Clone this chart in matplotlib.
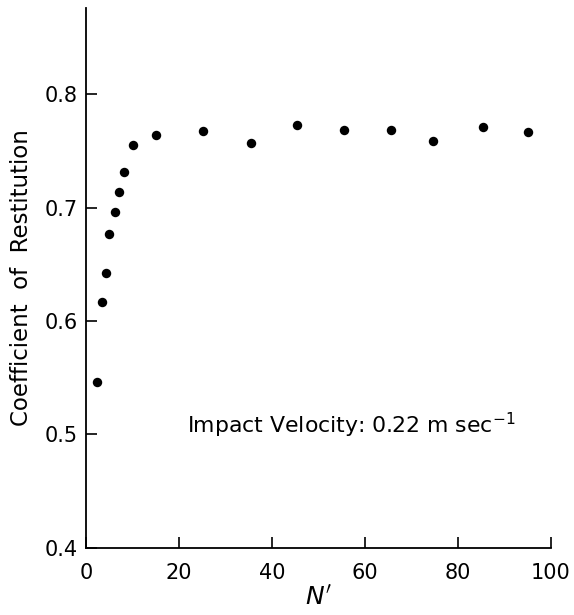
import matplotlib
matplotlib.use("Agg")
import matplotlib.pyplot as plt

# Data
n_values = [2.3, 3.4, 4.4, 5.0, 6.2, 7.0, 8.2, 10.1, 15.0, 25.2, 35.5, 45.3, 55.5, 65.6, 74.6, 85.4, 95.0]
restitution = [0.546, 0.617, 0.642, 0.677, 0.696, 0.7135, 0.7315, 0.7553, 0.7641, 0.7674,
               0.7568, 0.7727, 0.7688, 0.7688, 0.7585, 0.7714, 0.7665]
x_ticks = [0, 20, 40, 60, 80, 100]
y_ticks = [0.4, 0.5, 0.6, 0.7, 0.8]
y_tick_labels = ["0.4", "0.5", "0.6", "0.7", "0.8"]

plt.rcParams['font.family'] = ['DejaVu Sans']

fig = plt.figure(figsize=(5.74, 6.15), dpi=100)
ax = fig.add_axes([86/574, 1 - 547.7/615, (551 - 86)/574, (547.7 - 8)/615])

ax.plot(n_values, restitution, linestyle='none', marker='o', markersize=6.8,
        color='black', markeredgewidth=0)

ax.set_xlim(0, 100)
ax.set_ylim(0.4, 0.876)
ax.set_xticks(x_ticks)
ax.set_yticks(y_ticks)
ax.set_yticklabels(y_tick_labels)

for s in ['top', 'right']:
    ax.spines[s].set_visible(False)
for s in ['left', 'bottom']:
    ax.spines[s].set_linewidth(1.3)

ax.tick_params(axis='both', direction='in', length=8, width=1.2, labelsize=15)
ax.tick_params(axis='x', pad=11)
ax.tick_params(axis='y', pad=6)

ax.set_ylabel("Coefficient  of  Restitution", fontsize=16.5, labelpad=8)
ax.set_xlabel("$N'$", fontsize=18, labelpad=2)

ax.text(21.7, 0.501, "Impact Velocity: 0.22 m sec$^{-1}$", fontsize=15.8,
        ha='left', va='baseline')

fig.savefig("out.png", dpi=100)
